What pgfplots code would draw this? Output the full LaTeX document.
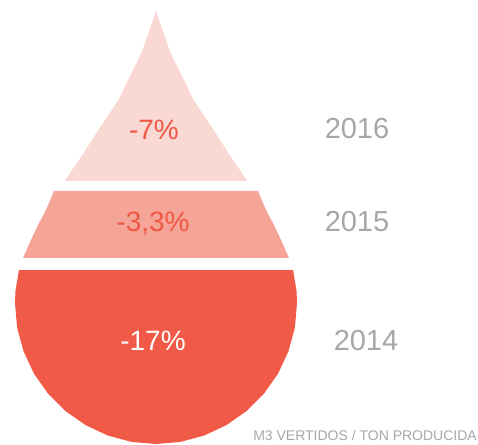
\documentclass[border=0pt]{standalone}
\usepackage{fontspec}
\setmainfont{Liberation Sans}
\usepackage{pgfplots}
\pgfplotsset{compat=1.18}
\definecolor{band1}{HTML}{FAD9D5}
\definecolor{band2}{HTML}{F5A598}
\definecolor{band3}{HTML}{F05A46}
\definecolor{txtred}{HTML}{EF5843}
\definecolor{yeargray}{HTML}{A7A7A9}
\begin{document}
\begin{tikzpicture}
\begin{axis}[hide axis, scale only axis, width=478pt, height=444pt,
  xmin=0, xmax=478, ymin=0, ymax=444, clip=false]
% 2016 band (top of drop)
\addplot[fill=band1, draw=none] coordinates {
 (156,434) (157.3,429) (159,424) (160.8,419) (163.5,411) (166,404)
 (169.5,394) (174,384) (177.5,377) (185.5,361) (193.5,344) (209,321)
 (220,304) (231,287) (240,274) (247,263)
 (65,263) (72,274) (81,287) (92,304) (103,321) (118.5,344) (126.5,361)
 (134.5,377) (138,384) (142.5,394) (146,404) (148.5,411) (151.2,419)
 (153,424) (154.7,429)} --cycle;
% 2015 band
\addplot[fill=band2, draw=none] coordinates {
 (258,253) (266,234) (274,219) (281,204) (289,186)
 (23,186) (31,204) (38,219) (46,234) (54,253)} --cycle;
% 2014 band (circle part)
\addplot[fill=band3, draw=none] coordinates {
 (293.1,173.9) (296.5,153.3) (297,141) (294.9,116.5) (288.5,92.8)
 (278.1,70.5) (264.0,50.4) (246.6,33.0) (226.5,18.9) (204.2,8.5)
 (180.5,2.1) (156,0) (131.5,2.1) (107.8,8.5) (85.5,18.9) (65.4,33.0)
 (48.0,50.4) (33.9,70.5) (23.5,92.8) (17.1,116.5) (15,141)
 (15.5,153.3) (18.9,173.9)} --cycle;
% values
\node[text=txtred, font=\fontsize{28}{28}\selectfont] at (axis cs:154,314) {-7\%};
\node[text=txtred, font=\fontsize{28}{28}\selectfont] at (axis cs:153,220) {-3,3\%};
\node[text=white, font=\fontsize{28}{28}\selectfont] at (axis cs:153,103) {-17\%};
% years
\node[text=yeargray, font=\fontsize{29}{29}\selectfont] at (axis cs:357,315) {2016};
\node[text=yeargray, font=\fontsize{29}{29}\selectfont] at (axis cs:357,222) {2015};
\node[text=yeargray, font=\fontsize{29}{29}\selectfont] at (axis cs:366,103) {2014};
\node[text=yeargray, font=\fontsize{14}{14}\selectfont, anchor=east, inner sep=0pt] at (axis cs:477,9) {M3 VERTIDOS / TON PRODUCIDA};
\end{axis}
\pgfresetboundingbox
\path (current axis.south west) rectangle (current axis.north east);
\end{tikzpicture}
\end{document}
